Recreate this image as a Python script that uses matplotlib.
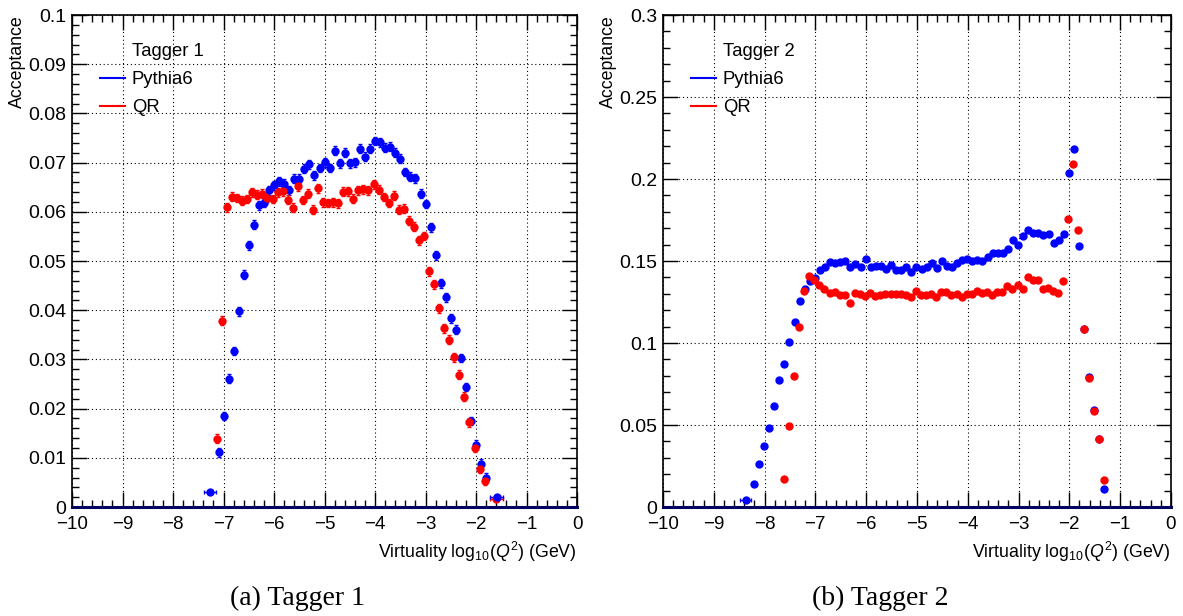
import matplotlib
matplotlib.use("Agg")
import matplotlib.pyplot as plt
import numpy as np
from matplotlib.lines import Line2D

plt.rcParams['font.family'] = ['Liberation Sans', 'DejaVu Sans']
plt.rcParams['mathtext.fontset'] = 'custom'
plt.rcParams['mathtext.rm'] = 'Liberation Sans'
plt.rcParams['mathtext.it'] = 'Liberation Sans:italic'

# ---- Tagger 1 (bins of 0.1 in log10(Q^2)) ----
t1_blue_x0 = -7.1
t1_blue = [0.0111, 0.0185,
           0.0261, 0.0317, 0.0398, 0.0472, 0.0532, 0.0574, 0.0613, 0.0618, 0.0644, 0.0654,
           0.0662, 0.0657, 0.0644, 0.0667, 0.0667, 0.0688, 0.0697, 0.0674, 0.0689, 0.0701,
           0.0689, 0.0724, 0.0699, 0.0720, 0.0699, 0.0701, 0.0728, 0.0712, 0.0728, 0.0744,
           0.0741, 0.0730, 0.0732, 0.0720, 0.0708, 0.0681, 0.0671, 0.0668, 0.0637, 0.0616,
           0.0569, 0.0512, 0.0455, 0.0426, 0.0384, 0.0360, 0.0303, 0.0244, 0.0175, 0.0127,
           0.0088, 0.0060]
t1_red_x0 = -7.13
t1_red = [0.0139, 0.0379,
          0.0609, 0.0631, 0.0628, 0.0623, 0.0626, 0.0640, 0.0635, 0.0637, 0.0629, 0.0626,
          0.0640, 0.0642, 0.0625, 0.0608, 0.0652, 0.0624, 0.0637, 0.0604, 0.0648, 0.0619,
          0.0618, 0.0619, 0.0617, 0.0641, 0.0642, 0.0627, 0.0644, 0.0646, 0.0644, 0.0656,
          0.0645, 0.0630, 0.0618, 0.0633, 0.0604, 0.0606, 0.0582, 0.0570, 0.0542, 0.0551,
          0.0479, 0.0453, 0.0404, 0.0363, 0.0340, 0.0304, 0.0269, 0.0224, 0.0172, 0.0120,
          0.0078, 0.0053]
t1_err = 0.0009
# wide edge bins: (x, y, half width)
t1_blue_wide = [(-7.26, 0.0031, 0.12), (-1.59, 0.0021, 0.13)]
t1_red_wide = [(-1.60, 0.0017, 0.13)]

# ---- Tagger 2 ----
t2_blue_x0 = -8.21
t2_blue = [0.0142, 0.0260, 0.0372, 0.0482, 0.0618, 0.0776, 0.0872, 0.1004, 0.1127, 0.1254,
           0.1330, 0.1380, 0.1398,
           0.1448, 0.1462, 0.1495, 0.1489, 0.1493, 0.1503, 0.1461, 0.1482, 0.1463, 0.1512,
           0.1465, 0.1467, 0.1471, 0.1453, 0.1476, 0.1447, 0.1447, 0.1465, 0.1435, 0.1461,
           0.1451, 0.1465, 0.1488, 0.1457, 0.1500, 0.1471, 0.1465, 0.1490, 0.1504, 0.1514,
           0.1502, 0.1506, 0.1498, 0.1524, 0.1551, 0.1551, 0.1549, 0.1571, 0.1626, 0.1600,
           0.1653, 0.1687, 0.1669, 0.1671, 0.1659, 0.1663, 0.1610, 0.1630, 0.1663, 0.2036,
           0.2184, 0.1592, 0.1083, 0.0791, 0.0591, 0.0413, 0.0110]
t2_red_x0 = -7.62
t2_red = [0.0169, 0.0496, 0.0799, 0.1096, 0.1315, 0.1409, 0.1385,
          0.1354, 0.1328, 0.1304, 0.1314, 0.1292, 0.1292, 0.1244, 0.1307, 0.1302, 0.1288,
          0.1307, 0.1286, 0.1292, 0.1296, 0.1296, 0.1298, 0.1296, 0.1294, 0.1280, 0.1315,
          0.1294, 0.1294, 0.1302, 0.1280, 0.1309, 0.1309, 0.1294, 0.1296, 0.1280, 0.1302,
          0.1300, 0.1315, 0.1304, 0.1309, 0.1290, 0.1309, 0.1312, 0.1345, 0.1329, 0.1353,
          0.1328, 0.1405, 0.1383, 0.1383, 0.1329, 0.1333, 0.1320, 0.1308, 0.1378, 0.1758,
          0.2091, 0.1691, 0.1086, 0.0787, 0.0583, 0.0413, 0.0163]
t2_blue_wide = [(-8.37, 0.0041, 0.11)]

bin_width = 0.1
blue = '#0000ff'
red = '#ff0000'


def centers(x0, vals):
    return x0 + bin_width * np.arange(len(vals))


def style_axis(ax, ymax, ystep, tag):
    ax.set_xlim(-10, 0)
    ax.set_ylim(0, ymax)
    ax.set_xticks(np.arange(-10, 1, 1))
    ax.set_xticks(np.arange(-10, 0.01, 0.2), minor=True)
    ax.set_yticks(np.linspace(0, ymax, int(round(ymax / ystep)) + 1))
    ax.set_yticks(np.linspace(0, ymax, int(round(ymax / ystep)) * 5 + 1), minor=True)
    ax.yaxis.set_major_formatter(matplotlib.ticker.FormatStrFormatter('%g'))
    ax.tick_params(which='both', direction='in', top=True, right=True)
    ax.tick_params(axis='y', labelsize=14, pad=4)
    ax.tick_params(axis='x', labelsize=13.5, pad=6.5)
    ax.tick_params(which='major', length=10.5, width=1.0)
    ax.tick_params(which='minor', length=5.2, width=1.0)
    ax.grid(True, which='major', color='black', linestyle=(0, (1, 2.5)), linewidth=0.8)
    for s in ax.spines.values():
        s.set_linewidth(1.2)
    ax.spines['bottom'].set_color('#000060')
    ax.spines['bottom'].set_linewidth(2.2)
    ax.set_xlabel('Virtuality log$_{10}$($Q^{2}$) (GeV)', loc='right', fontsize=12.8, labelpad=5)
    ax.set_ylabel('Acceptance', loc='top', fontsize=12.8, labelpad=2)
    handles = [Line2D([], [], color='none', label=tag),
               Line2D([], [], color=blue, lw=1.5, label='Pythia6'),
               Line2D([], [], color=red, lw=1.5, label='QR')]
    ax.legend(handles=handles, loc='upper left', bbox_to_anchor=(0.056, 0.943), frameon=False,
              fontsize=13.3, handlelength=1.35, handletextpad=0.35, labelspacing=0.6,
              borderaxespad=0, borderpad=0)


fig = plt.figure(figsize=(11.83, 6.16), dpi=100)
ax1 = fig.add_axes([0.0609, 0.1769, 0.4269, 0.7987])
ax2 = fig.add_axes([0.5604, 0.1769, 0.4294, 0.7987])

ms = 5.0
# Tagger 1
ax1.errorbar(centers(t1_blue_x0, t1_blue), t1_blue, yerr=t1_err, fmt='o', color=blue,
             ms=ms, elinewidth=1.0, capsize=1.5, zorder=3)
ax1.errorbar(centers(t1_red_x0, t1_red), t1_red, yerr=t1_err, fmt='o', color=red,
             ms=ms, elinewidth=1.0, capsize=1.5, zorder=3)
for x, y, w in t1_red_wide:
    ax1.errorbar([x], [y], xerr=w, fmt='o', color=red, ms=ms, elinewidth=1.0, capsize=1.5, zorder=3)
for x, y, w in t1_blue_wide:
    ax1.errorbar([x], [y], xerr=w, fmt='o', color=blue, ms=ms, elinewidth=1.0, capsize=1.5, zorder=3)
style_axis(ax1, 0.1, 0.01, 'Tagger 1')

# Tagger 2
ax2.plot(centers(t2_blue_x0, t2_blue), t2_blue, 'o', color=blue, ms=ms, zorder=3)
ax2.plot(centers(t2_red_x0, t2_red), t2_red, 'o', color=red, ms=ms, zorder=3)
for x, y, w in t2_blue_wide:
    ax2.errorbar([x], [y], xerr=w, fmt='o', color=blue, ms=ms, elinewidth=1.0, capsize=1.5, zorder=3)
style_axis(ax2, 0.3, 0.05, 'Tagger 2')

fig.text(297 / 1183, 1 - 598 / 616, '(a) Tagger 1', ha='center', va='center',
         family='Liberation Serif', fontsize=20)
fig.text(880 / 1183, 1 - 598 / 616, '(b) Tagger 2', ha='center', va='center',
         family='Liberation Serif', fontsize=20)

fig.savefig('out.png', dpi=100)
